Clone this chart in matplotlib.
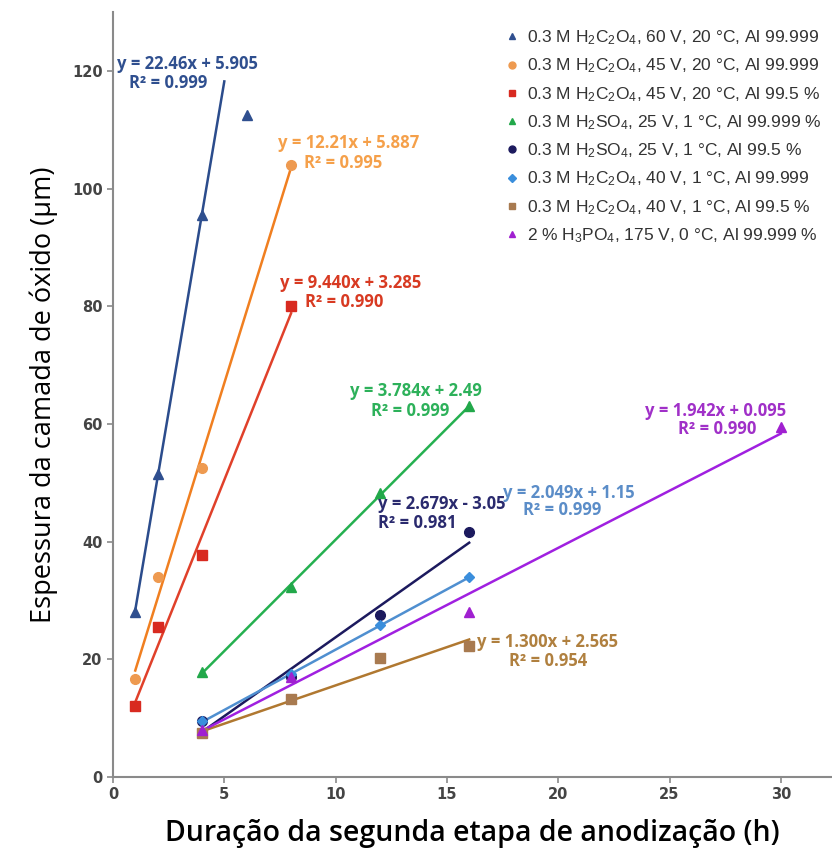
import matplotlib
matplotlib.use("Agg")
import matplotlib.pyplot as plt
import numpy as np

plt.rcParams["mathtext.default"] = "regular"

# series: (label, marker, marker colour, line colour, text colour)
labels = [
    "0.3 M H$_2$C$_2$O$_4$, 60 V, 20 °C, Al 99.999",
    "0.3 M H$_2$C$_2$O$_4$, 45 V, 20 °C, Al 99.999",
    "0.3 M H$_2$C$_2$O$_4$, 45 V, 20 °C, Al 99.5 %",
    "0.3 M H$_2$SO$_4$, 25 V, 1 °C, Al 99.999 %",
    "0.3 M H$_2$SO$_4$, 25 V, 1 °C, Al 99.5 %",
    "0.3 M H$_2$C$_2$O$_4$, 40 V, 1 °C, Al 99.999",
    "0.3 M H$_2$C$_2$O$_4$, 40 V, 1 °C, Al 99.5 %",
    "2 % H$_3$PO$_4$, 175 V, 0 °C, Al 99.999 %",
]
markers = ["^", "o", "s", "^", "o", "D", "s", "^"]
marker_colors = ["#2F4F8F", "#EE9A50", "#D82A20", "#22A84A",
                 "#1C1A5E", "#3A8EDC", "#A87A50", "#A020D0"]
line_colors = ["#2B4C8C", "#F07F20", "#E0402A", "#25B050",
               "#1C1A5E", "#4F8FD0", "#B07830", "#A020E0"]
text_colors = ["#2F4F8F", "#F5A04A", "#D83A22", "#2DB15A",
               "#2A2A6E", "#5B8DC8", "#B0803F", "#A030C8"]

# data
x_data = [
    [1, 2, 4, 6],
    [1, 2, 4, 8],
    [1, 2, 4, 8],
    [4, 8, 12, 16],
    [4, 8, 12, 16],
    [4, 8, 12, 16],
    [4, 8, 12, 16],
    [4, 8, 16, 30],
]
y_data = [
    [28, 51.5, 95.5, 112.5],
    [16.7, 34, 52.5, 104],
    [12, 25.5, 37.8, 80],
    [17.8, 32.3, 48.3, 63],
    [9.5, 17, 27.5, 41.6],
    [9.5, 17.5, 25.8, 34],
    [7.5, 13.3, 20.3, 22.3],
    [8, 17, 28, 59.5],
]

# linear trend lines (slope, intercept, x range)
slopes = [22.46, 12.21, 9.440, 3.784, 2.679, 2.049, 1.300, 1.942]
intercepts = [5.905, 5.887, 3.285, 2.49, -3.05, 1.15, 2.565, 0.095]
trend_x0 = [1, 1, 1, 4, 4, 4, 4, 4]
trend_x1 = [5, 8, 8, 16, 16, 16, 16, 30]
eq_text = ["y = 22.46x + 5.905", "y = 12.21x + 5.887", "y = 9.440x + 3.285",
           "y = 3.784x + 2.49", "y = 2.679x - 3.05", "y = 2.049x + 1.15",
           "y = 1.300x + 2.565", "y = 1.942x + 0.095"]
r2_text = ["R² = 0.999", "R² = 0.995", "R² = 0.990", "R² = 0.999",
           "R² = 0.981", "R² = 0.999", "R² = 0.954", "R² = 0.990"]
eq_pos = [(0.18, 121.2), (7.42, 107.8), (7.51, 84.0), (10.66, 65.6),
          (11.92, 46.4), (17.5, 48.3), (16.37, 22.9), (23.89, 62.2)]
r2_pos = [(0.72, 118.0), (8.59, 104.4), (8.64, 80.7), (11.61, 62.2),
          (11.92, 43.2), (18.4, 45.4), (17.81, 19.7), (25.37, 59.2)]

fig = plt.figure(figsize=(8.32, 8.51), dpi=100)
ax = fig.add_axes([113 / 832, 74 / 851, 719 / 832, 765 / 851])

for i in range(len(labels)):
    xs = np.array([trend_x0[i], trend_x1[i]])
    ax.plot(xs, slopes[i] * xs + intercepts[i], color=line_colors[i], lw=1.8, zorder=2)
    ax.plot(x_data[i], y_data[i], linestyle="none", marker=markers[i],
            markersize=7 if markers[i] != "D" else 5.5,
            color=marker_colors[i], zorder=3)
    ax.text(*eq_pos[i], eq_text[i], color=text_colors[i], fontsize=12,
            family="Open Sans", weight="bold", va="center", ha="left")
    ax.text(*r2_pos[i], r2_text[i], color=text_colors[i], fontsize=12,
            family="Open Sans", weight="bold", va="center", ha="left")

ax.set_xlim(0, 32.3)
ax.set_ylim(0, 130)
ax.set_xticks(np.arange(0, 31, 5))
ax.set_yticks(np.arange(0, 121, 20))
for s in ["top", "right"]:
    ax.spines[s].set_visible(False)
for s in ["left", "bottom"]:
    ax.spines[s].set_color("#8a8a8a")
    ax.spines[s].set_linewidth(1.5)
ax.tick_params(direction="out", length=4, width=1.2, color="#8a8a8a",
               labelcolor="#444444", labelsize=10.5)
for t in ax.get_xticklabels() + ax.get_yticklabels():
    t.set_fontweight("bold")

ax.set_xlabel("Duração da segunda etapa de anodização (h)", family="Open Sans",
              weight="semibold", fontsize=20.5, labelpad=12)
ax.set_ylabel("Espessura da camada de óxido (µm)", family="Open Sans",
              fontsize=19.5, labelpad=10)

leg_handles = []
for i in range(len(labels)):
    leg_handles.append(plt.Line2D([], [], linestyle="none", marker=markers[i],
                                  markersize=5 if markers[i] != "D" else 4.2,
                                  color=marker_colors[i]))
leg = fig.legend(leg_handles, labels, loc="upper left", bbox_to_anchor=(0.588, 0.985),
                 frameon=False, handlelength=0.8, handletextpad=0.45,
                 labelspacing=0.55, prop={"family": "Liberation Sans", "size": 12.5})
for t in leg.get_texts():
    t.set_color("#333333")

fig.savefig("out.png", dpi=100)
